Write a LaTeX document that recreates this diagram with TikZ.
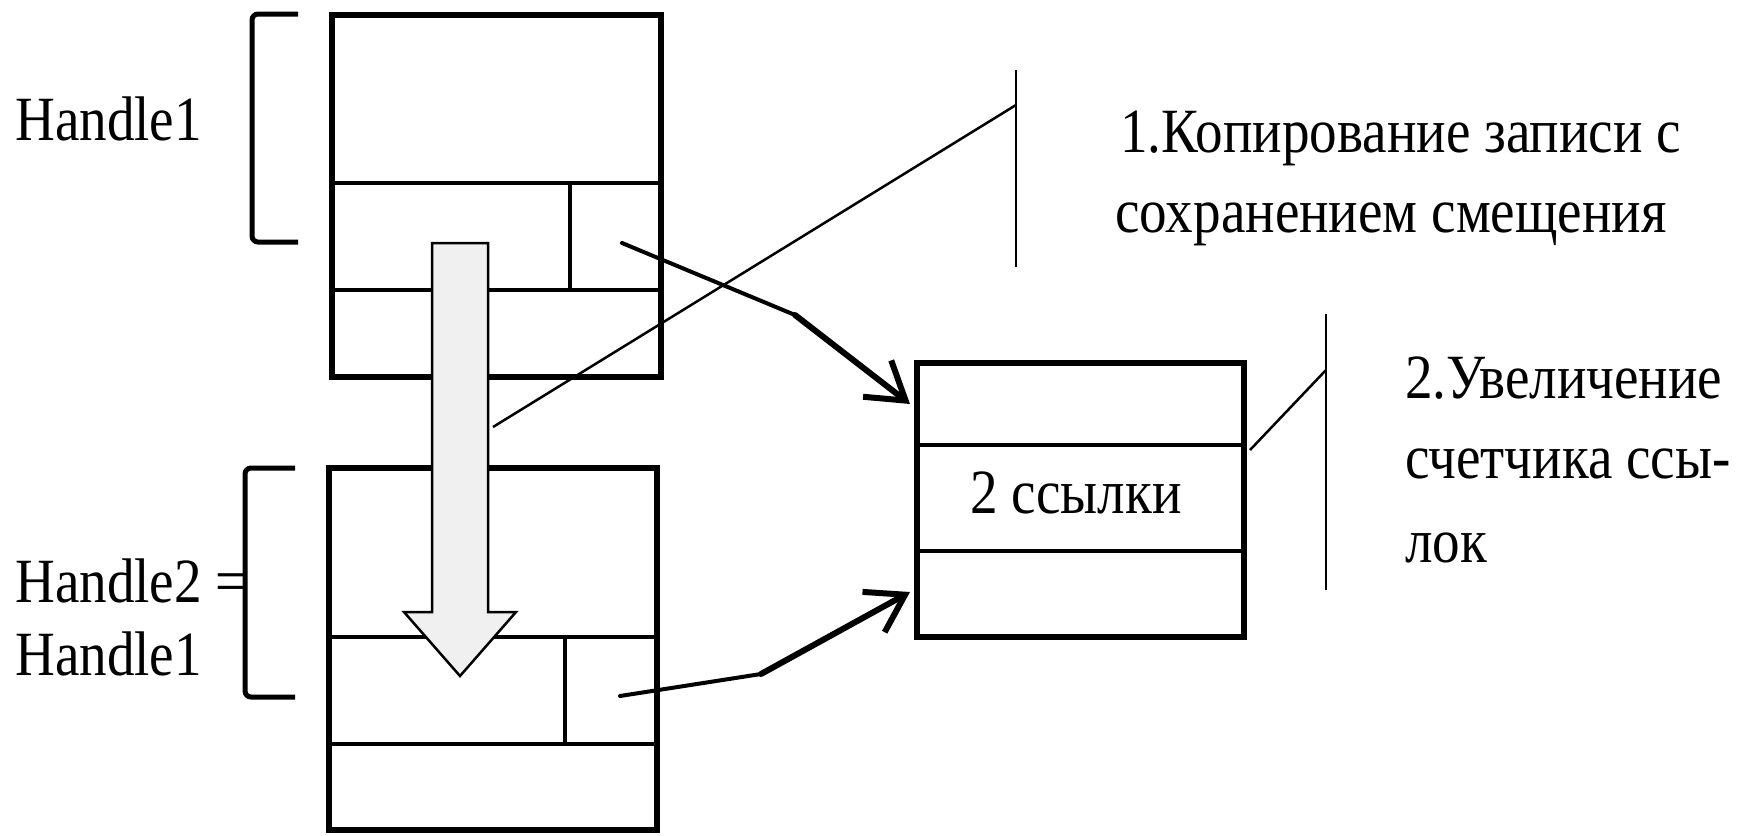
\documentclass[tikz,border=0pt]{standalone}
\usepackage{fontspec}
\usepackage{graphicx}
\setmainfont{Liberation Serif}
\newcommand{\hdltxt}[1]{\scalebox{0.875}[1]{#1}}
\usetikzlibrary{arrows.meta,calc}
\definecolor{hdlgrey}{HTML}{F0F0F0}
\tikzset{
  hdlbox/.style={draw=black, line width=6.5pt, inner sep=0pt},
  hdlline/.style={draw=black, line width=4.5pt},
  hdlbrace/.style={draw=black, line width=5pt, rounded corners=6pt},
  hdltext/.style={font=\fontsize{63}{72}\selectfont, inner sep=0pt, anchor=base west},
  hdlptr/.style={draw=black, line width=4pt, line cap=round},
  hdlptrend/.style={draw=black, line width=6pt, line cap=round,
                    -{Straight Barb[length=36pt,width=46pt]}},
  hdlcallout/.style={draw=black, line width=2.5pt},
  hdlcopy/.style={draw=black, line width=2.5pt, fill=hdlgrey, line join=miter},
}
\begin{document}
\begin{tikzpicture}[x=1pt,y=-1pt]
  \useasboundingbox (0,0) rectangle (1760,835);
  % records
  \node[hdlbox,minimum width=329pt,minimum height=362pt] (rec1) at (496.5,196) {};
  \draw[hdlline] (332,183) -- (661,183) (332,290) -- (661,290) (570,183) -- (570,290);
  \node[hdlbox,minimum width=328pt,minimum height=362pt] (rec2) at (493,649) {};
  \draw[hdlline] (329,637) -- (657,637) (329,744) -- (657,744) (565,637) -- (565,744);
  \node[hdlbox,minimum width=327pt,minimum height=274pt] (cnt) at (1080.5,500) {};
  \draw[hdlline] (917,445) -- (1244,445) (917,551) -- (1244,551);
  \node[hdltext,anchor=base] (cntval) at (1076,513) {\hdltxt{2 ссылки}};
  % handles
  \draw[hdlbrace] (298,14) -- (252,14) -- (252,242) -- (298,242);
  \node[hdltext] (h1) at (15,140) {\hdltxt{Handle1}};
  \draw[hdlbrace] (295,468) -- (245,468) -- (245,697) -- (295,697);
  \node[hdltext] (h2a) at (15,602) {\hdltxt{Handle2 =}};
  \node[hdltext] (h2b) at (15,675) {\hdltxt{Handle1}};
  % copy arrow
  \draw[hdlcopy] (432,243) -- (488,243) -- (488,612) -- (516,612) -- (460,676)
    -- (404,612) -- (432,612) -- cycle;
  % pointers
  \coordinate (p1) at (622,243);
  \coordinate (p1b) at (795,315);
  \coordinate (p1e) at (910,404);
  \draw[hdlptr] (p1) -- (p1b);
  \draw[hdlptrend] (p1b) -- (p1e);
  \coordinate (p2) at (620,696);
  \coordinate (p2b) at (761,674);
  \coordinate (p2e) at (910,592);
  \draw[hdlptr] (p2) -- (p2b);
  \draw[hdlptrend] (p2b) -- (p2e);
  % callouts
  \coordinate (c1s) at (493,427);
  \coordinate (c1e) at (1016,105);
  \draw[hdlcallout] (1016,70) -- (1016,267);
  \draw[hdlcallout] (c1s) -- (c1e);
  \node[hdltext] (n1a) at (1120,152) {\hdltxt{1.Копирование записи с}};
  \node[hdltext] (n1b) at (1115,232) {\hdltxt{сохранением смещения}};
  \coordinate (c2s) at (1250,450);
  \coordinate (c2e) at (1326,370);
  \draw[hdlcallout] (1326,314) -- (1326,590);
  \draw[hdlcallout] (c2s) -- (c2e);
  \node[hdltext] (n2a) at (1405,398) {\hdltxt{2.Увеличение}};
  \node[hdltext] (n2b) at (1405,478) {\hdltxt{счетчика ссы-}};
  \node[hdltext] (n2c) at (1405,562) {\hdltxt{лок}};
\end{tikzpicture}
\end{document}
